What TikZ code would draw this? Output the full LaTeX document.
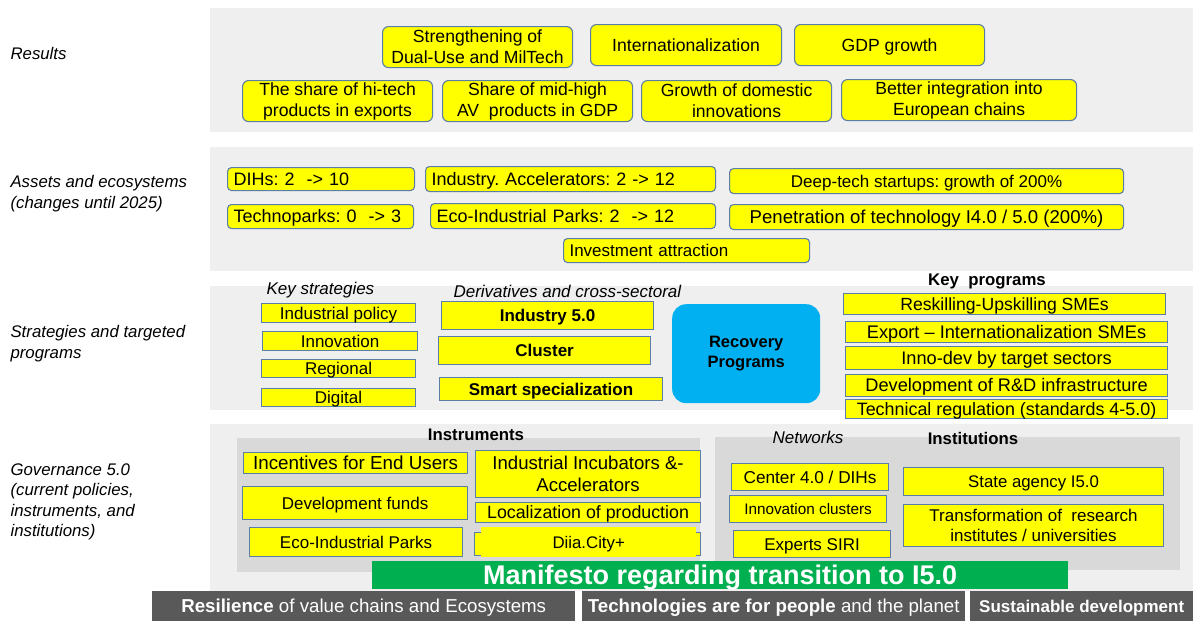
\documentclass[tikz,border=0pt]{standalone}
\usepackage{fontspec}
\setmainfont{Liberation Sans}
\frenchspacing
\definecolor{band}{HTML}{EFEFEF}
\definecolor{panel}{HTML}{D9D9D9}
\definecolor{bordc}{HTML}{5A7EA6}
\definecolor{ylw}{HTML}{FFFF00}
\definecolor{rblue}{HTML}{00B0F0}
\definecolor{mgreen}{HTML}{00B050}
\definecolor{dgray}{HTML}{595959}
\newcommand\fsz[2]{\fontsize{#1}{#2}\selectfont}
\newcommand\bx[7]{\pgfmathsetmacro\mybw{#4-#2}\pgfmathsetmacro\mybh{#5-#3}%
  \node[#6, anchor=north west, minimum width=\mybw pt, minimum height=\mybh pt] (#1) at (#2,#3) {#7};}
\newcommand\bxl[7]{\pgfmathsetmacro\mybw{#4-#2-12}\pgfmathsetmacro\mybh{#5-#3}%
  \node[#6, anchor=north west, text width=\mybw pt, align=left, inner xsep=6pt, minimum height=\mybh pt] (#1) at (#2,#3) {#7};}
\tikzset{
  oneline/.style={text height=12.4pt, text depth=0pt},
  rbox/.style={draw=bordc, fill=ylw, line width=1.1pt, rounded corners=6pt, inner sep=0pt, align=center, font=\fsz{17.6}{21}},
  abox/.style={draw=bordc, fill=ylw, line width=1.1pt, rounded corners=4pt, inner sep=0pt, align=center, oneline, font=\fsz{18}{20}},
  sbox/.style={draw=bordc, fill=ylw, line width=1.1pt, inner sep=0pt, align=center, font=\fsz{17}{20}},
  s1/.style={sbox, oneline},
  kbox/.style={s1, font=\fsz{18.2}{20}},
  side/.style={anchor=north west, align=left, font=\fsz{16.8}{20.5}\itshape},
  ttl/.style={font=\fsz{16.8}{19}\bfseries},
  ittl/.style={font=\fsz{17}{19}\itshape},
  bar/.style={fill=dgray, text=white, inner sep=0pt, oneline, font=\fsz{18.7}{20}},
}
\begin{document}
\begin{tikzpicture}[x=1pt,y=-1pt]
\useasboundingbox[fill=white] (0,0) rectangle (1193,621);
% bands
\fill[band] (210,8) rectangle (1193,132);
\fill[band] (210,147) rectangle (1193,271);
\fill[band] (210,286) rectangle (1193,410);
\fill[band] (210,424) rectangle (1193,591);
% side labels
\node[side] (l1) at (7,44) {Results};
\node[side] (l2) at (7,172) {Assets and ecosystems\\(changes until 2025)};
\node[side] (l3) at (7,322) {Strategies and targeted\\programs};
\node[side] (l4) at (7,460) {Governance 5.0\\(current policies,\\instruments, and\\institutions)};
% Results
\bx{r1}{382}{26}{572}{67}{rbox}{Strengthening of\\Dual-Use and MilTech}
\bx{r2}{590}{24}{781}{65}{rbox, oneline}{Internationalization}
\bx{r3}{794}{24}{984}{65}{rbox, oneline}{GDP growth}
\bx{r4}{242}{80}{432}{121}{rbox}{The share of hi-tech\\products in exports}
\bx{r5}{442}{80}{632}{121}{rbox}{Share of mid-high\\AV\ \ products in GDP}
\bx{r6}{641}{80}{831}{121}{rbox}{Growth of domestic\\innovations}
\bx{r7}{841}{79}{1076}{120}{rbox}{Better integration into\\European chains}
% Assets
\bxl{a1}{227}{167}{414}{190}{abox}{DIHs: 2\ \ -> 10}
\bxl{a2}{425}{166}{715}{191}{abox}{Industry. Accelerators: 2 -> 12}
\bx{a3}{729}{168}{1123}{193}{abox, font=\fsz{17}{20}}{Deep-tech startups: growth of 200\%}
\bxl{a4}{227}{204}{413}{228}{abox}{Technoparks: 0\ \ -> 3}
\bxl{a5}{430}{203}{715}{228}{abox}{Eco-Industrial Parks: 2\ \ -> 12}
\bx{a6}{729}{204}{1123}{229}{abox, font=\fsz{18.6}{20}}{Penetration of technology I4.0 / 5.0 (200\%)}
\bxl{a7}{563}{238}{809}{262}{abox, font=\fsz{17}{20}}{Investment attraction}
% Strategies
\node[ittl, anchor=west] (ks) at (263,290) {Key strategies};
\node[ittl, anchor=west] (dc) at (450,291) {Derivatives and cross-sectoral};
\node[ttl] (kp) at (987,281) {Key\ \ programs};
\bx{st1}{261}{303}{415}{322}{s1}{Industrial policy}
\bx{st2}{262}{331}{417}{350}{s1}{Innovation}
\bx{st3}{261}{359}{415}{377}{s1}{Regional}
\bx{st4}{261}{388}{415}{406}{s1}{Digital}
\bx{d1}{441}{301}{653}{329}{s1, font=\fsz{17}{20}\bfseries}{Industry 5.0}
\bx{d2}{438}{336}{650}{364}{s1, font=\fsz{17}{20}\bfseries}{Cluster}
\bx{d3}{439}{377}{662}{400}{s1, font=\fsz{17}{20}\bfseries}{Smart specialization}
\bx{rp}{672}{304}{820}{403}{fill=rblue, rounded corners=14pt, inner sep=0pt, align=center, font=\fsz{16.5}{20}\bfseries}{Recovery\\Programs}
\bx{k1}{843}{293}{1165}{314}{kbox, font=\fsz{17.6}{20}}{Reskilling-Upskilling SMEs}
\bx{k2}{845}{321}{1167}{342}{kbox}{Export -- Internationalization SMEs}
\bx{k3}{845}{346}{1167}{369}{kbox}{Inno-dev by target sectors}
\bx{k4}{845}{374}{1167}{396}{kbox}{Development of R\&D infrastructure}
\bx{k5}{845}{399}{1167}{418}{kbox, font=\fsz{17.9}{20}}{Technical regulation (standards 4-5.0)}
% Governance panels
\fill[panel] (237,438) rectangle (700,572);
\fill[panel] (715,437) rectangle (1180,570);
\node[ttl] (it) at (476,435) {Instruments};
\node[ittl] (nw) at (808,437) {Networks};
\node[ttl] (in) at (973,438) {Institutions};
\bx{g1}{243}{452}{467}{473}{s1, font=\fsz{18.8}{20}}{Incentives for End Users}
\bx{g2}{242}{486}{467}{519}{s1}{Development funds}
\bx{g3}{249}{527}{462}{556}{s1}{Eco-Industrial Parks}
\bx{g4}{475}{450}{700}{497}{sbox, font=\fsz{18.6}{21.5}}{Industrial Incubators \&-\\Accelerators}
\bx{g5}{475}{502}{700}{522}{s1, font=\fsz{17.8}{20}}{Localization of production}
\bx{g6}{474}{532}{700}{555}{sbox}{}
\bx{g6t}{481}{527}{696}{557}{fill=ylw, inner sep=0pt, oneline, font=\fsz{16.8}{20}}{Diia.City+}
\bx{n1}{731}{463}{888}{490}{s1, font=\fsz{17.2}{20}}{Center 4.0 / DIHs}
\bx{n2}{729}{495}{886}{522}{s1, font=\fsz{15.3}{18}, text height=11pt}{Innovation clusters}
\bx{n3}{733}{530}{890}{557}{s1}{Experts SIRI}
\bx{i1}{903}{467}{1163}{495}{s1, font=\fsz{16.8}{20}}{State agency I5.0}
\bx{i2}{903}{504}{1163}{546}{sbox, font=\fsz{17}{20}}{Transformation of\ \ research\\institutes / universities}
% Manifesto
\bx{mf}{372}{561}{1068}{589}{fill=mgreen, text=white, inner sep=0pt, text height=19pt, text depth=0pt, font=\fsz{27}{28}\bfseries}{Manifesto regarding transition to I5.0}
% bottom bars
\bx{b1}{152}{591}{575}{621}{bar}{\textbf{Resilience} of value chains and Ecosystems}
\bx{b2}{582}{591}{965}{621}{bar}{\textbf{Technologies are for people} and the planet}
\bx{b3}{970}{591}{1193}{621}{bar, font=\fsz{17}{20}}{\textbf{Sustainable development}}
\end{tikzpicture}
\end{document}
